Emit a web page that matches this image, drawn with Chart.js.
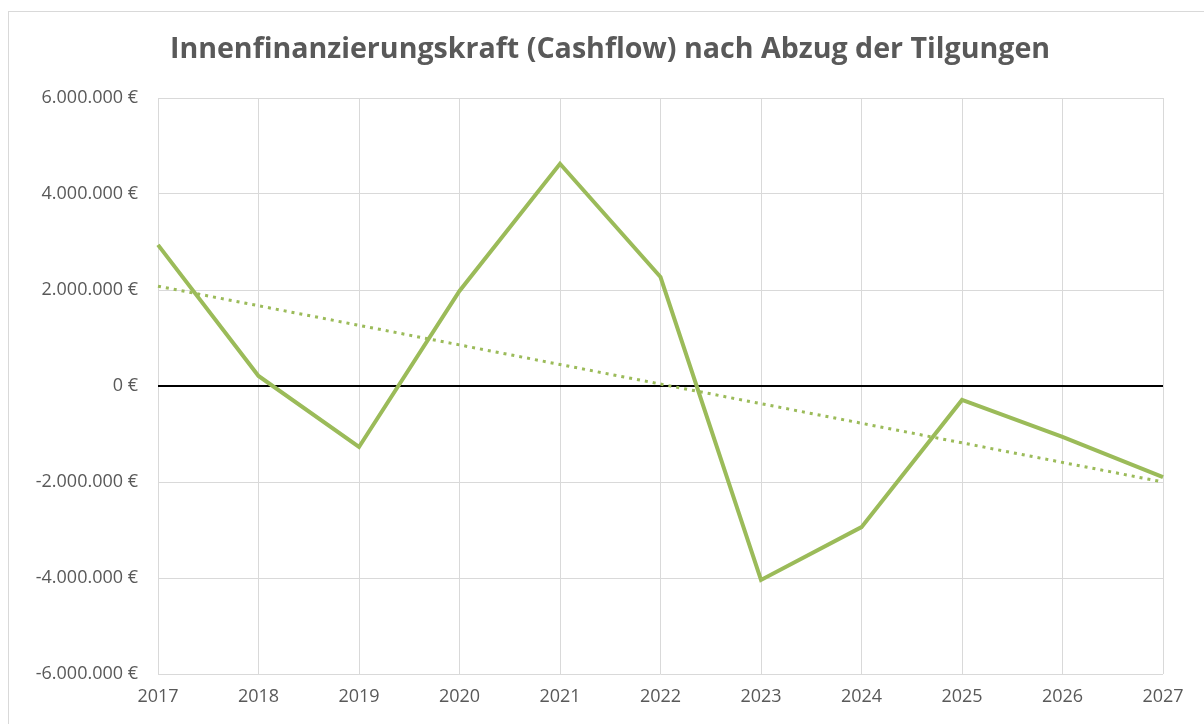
<!DOCTYPE html>
<html>
<head>
<meta charset="utf-8">
<script src="https://cdn.jsdelivr.net/npm/chart.js@4"></script>
<style>
  html, body { margin: 0; padding: 0; background: #fff; overflow: hidden; }
  #frame { position: absolute; left: 8px; top: 11px; width: 1300px; height: 800px; border: 1px solid #d9d9d9; }
  #wrap { position: absolute; left: 0; top: 0; width: 1204px; height: 724px; }
</style>
</head>
<body>
<div id="frame"></div>
<div id="wrap"><canvas id="chart"></canvas></div>
<script>
// Jahre und Werte
const years = ["2017", "2018", "2019", "2020", "2021", "2022", "2023", "2024", "2025", "2026", "2027"];
const cashflow = [2940000, 210000, -1270000, 1980000, 4630000, 2270000, -4040000, -2940000, -290000, -1060000, -1900000];
// Trendlinie: nur Anfangs- und Endpunkt, dazwischen verbunden
const trend = [2080000, null, null, null, null, null, null, null, null, null, -2000000];
const titleText = "Innenfinanzierungskraft (Cashflow) nach Abzug der Tilgungen";

function euro(v) {
    const s = Math.abs(v).toString().replace(/\B(?=(\d{3})+(?!\d))/g, ".");
    return (v < 0 ? "-" : "") + s + " €";
}

// Titel selbst zeichnen, damit er mittig über dem ganzen Rahmen sitzt
const titlePlugin = {
    id: "ownTitle",
    afterDraw(c) {
        const g = c.ctx;
        g.save();
        g.font = "bold 28.6px 'Open Sans', sans-serif";
        g.fillStyle = "#595959";
        g.textAlign = "center";
        g.textBaseline = "middle";
        g.fillText(titleText, 610, 50);
        g.restore();
    }
};

const ctx = document.getElementById("chart").getContext("2d");
const chart = new Chart(ctx, {
    type: "line",
    data: {
        labels: years,
        datasets: [
            { label: "Cashflow", data: cashflow, borderColor: "#9bbb59", borderWidth: 4, pointRadius: 0, fill: false, tension: 0 },
            { label: "Trend", data: trend, borderColor: "#9bbb59", borderWidth: 3, borderDash: [3, 5], pointRadius: 0, spanGaps: true, fill: false }
        ]
    },
    options: {
        responsive: true,
        maintainAspectRatio: false,
        animation: false,
        layout: { padding: { left: 0, right: 41, top: 98, bottom: 0 } },
        plugins: {
            legend: { display: false },
            tooltip: { enabled: false },
            title: { display: false }
        },
        scales: {
            x: {
                offset: false,
                grid: { color: "#d9d9d9", drawTicks: false },
                border: { display: false },
                ticks: { color: "#595959", font: { family: "'Open Sans', sans-serif", size: 18 }, padding: 12, maxRotation: 0 },
                afterFit: s => { s.height = 50; }
            },
            y: {
                min: -6000000,
                max: 6000000,
                ticks: {
                    stepSize: 2000000,
                    color: "#595959",
                    font: { family: "'Open Sans', sans-serif", size: 18 },
                    padding: 20,
                    callback: v => euro(v)
                },
                grid: {
                    drawTicks: false,
                    color: c => c.tick && c.tick.value === 0 ? "#000000" : "#d9d9d9",
                    lineWidth: c => c.tick && c.tick.value === 0 ? 2 : 1
                },
                border: { display: false },
                afterFit: s => { s.width = 158; }
            }
        }
    },
    plugins: [titlePlugin]
});
</script>
</body>
</html>
